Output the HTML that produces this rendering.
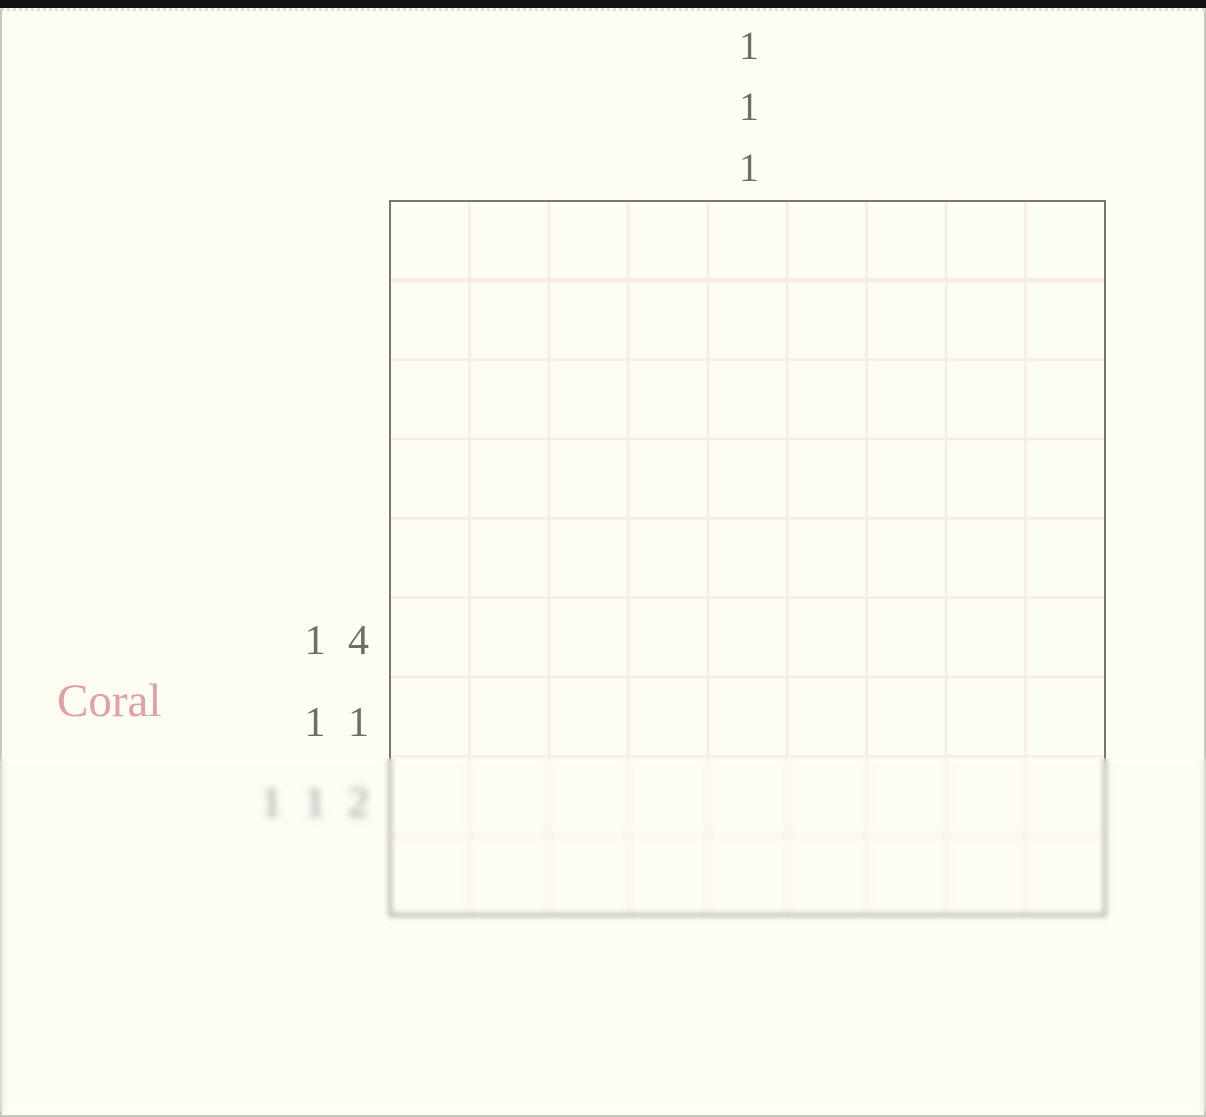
<!DOCTYPE html>
<html><head><meta charset="utf-8"><style>
html,body{margin:0;padding:0}
body{width:1206px;height:1117px;background:#fdfdf4;position:relative;overflow:hidden;font-family:"Liberation Serif",serif}
.t{position:absolute;color:#6e6e68;font-size:40px;line-height:1;text-align:center}
</style></head><body>
<div style="position:absolute;left:0;top:0;width:1206px;height:8px;background:#111"></div>
<div style="position:absolute;left:0;top:8px;width:1202px;height:1104px;border:2px solid #c8c8c0;border-top:3px dotted #ddd"></div>
<svg width="1206" height="1117" style="position:absolute;left:0;top:0">
<g id="grid"></g>
</svg>
<div class="t" style="left:729px;top:26px;width:40px">1</div>
<div class="t" style="left:729px;top:87px;width:40px">1</div>
<div class="t" style="left:729px;top:148px;width:40px">1</div>
<div class="t" style="left:285px;top:620px;width:90px;text-align:right;letter-spacing:6px;font-size:42px">1 4</div>
<div class="t" style="left:285px;top:702px;width:90px;text-align:right;letter-spacing:6px;font-size:42px">1 1</div>
<div class="t" style="left:235px;top:782px;width:140px;text-align:right;letter-spacing:6px;font-size:42px;filter:blur(3px);color:#999">1 1 2</div>
<div class="t" style="left:57px;top:678px;color:#e0a0a4;font-size:47px;text-align:left">Coral</div>
<script>
const cols=9, rows=9, x0=390, y0=201, x1=1105, y1=915;
const g=document.getElementById('grid');
const ns='http://www.w3.org/2000/svg';
const cw=(x1-x0)/cols, ch=(y1-y0)/rows;
for(let i=1;i<cols;i++){const l=document.createElementNS(ns,'line');


l.setAttribute('x1',x0+i*cw);l.setAttribute('x2',x0+i*cw);l.setAttribute('y1',y0);l.setAttribute('y2',y1);
l.setAttribute('stroke','#f8ece6');l.setAttribute('stroke-width','2.5');g.appendChild(l);}
for(let i=1;i<rows;i++){const l=document.createElementNS(ns,'line');


l.setAttribute('y1',y0+i*ch);l.setAttribute('y2',y0+i*ch);l.setAttribute('x1',x0);l.setAttribute('x2',x1);
l.setAttribute('stroke','#f8ece6');l.setAttribute('stroke-width',i==1?'5':'2.5');g.appendChild(l);}
const b=document.createElementNS(ns,'rect');


b.setAttribute('x',x0);b.setAttribute('y',y0);b.setAttribute('width',x1-x0);b.setAttribute('height',y1-y0);
b.setAttribute('fill','none');b.setAttribute('stroke','#77776f');b.setAttribute('stroke-width','2');g.appendChild(b);
</script>
<div style="position:absolute;left:0;top:758px;width:1206px;height:354px;backdrop-filter:blur(3px);-webkit-backdrop-filter:blur(3px)"></div>
</body></html>
